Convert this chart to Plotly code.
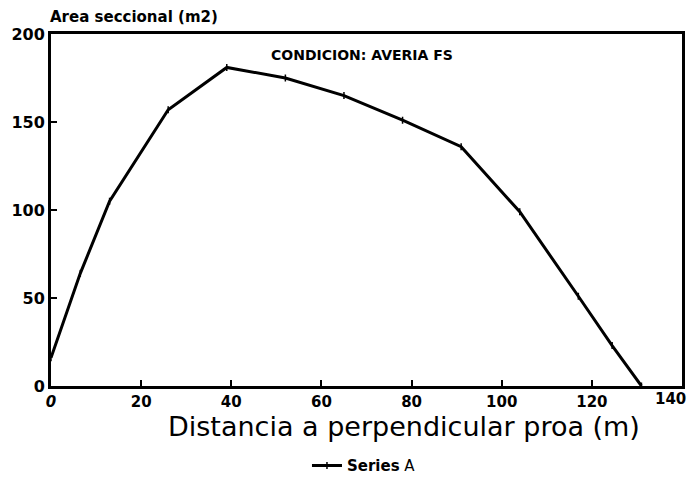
import plotly.graph_objects as go

distancia = [0, 6.5, 13, 26, 39, 52, 65, 78, 91, 104, 117, 124.5, 131]
area = [16, 64, 105, 157, 181, 175, 165, 151, 136, 99, 51, 23, 0]
x_ticks = [0, 20, 40, 60, 80, 100, 120, 140]
y_ticks = [0, 50, 100, 150, 200]

F = "DejaVu Sans, sans-serif"

# last label is drawn as an annotation so it is not clipped at the right edge
x_ticktext = ["<i>0</i>"] + [str(v) for v in x_ticks[1:-1]] + [""]

fig = go.Figure()
fig.add_trace(go.Scatter(
    x=distancia, y=area, mode="lines+markers", name="<b>Series</b> A",
    line=dict(color="black", width=3),
    marker=dict(symbol="line-ns", size=5, line=dict(color="black", width=1.5)),
))

# page body has an 8px default margin, so the figure is smaller than the window
fig.update_layout(
    width=692, height=470,
    margin=dict(l=43, r=18, t=26, b=92, autoexpand=False),
    paper_bgcolor="white", plot_bgcolor="white",
    font=dict(family=F, color="black"),
    showlegend=True,
    legend=dict(orientation="h", x=0.496, xanchor="center", y=-0.18, yanchor="top",
                font=dict(size=15, family=F)),
    annotations=[
        dict(text="CONDICION: AVERIA FS", x=0.493, y=0.94, xref="paper", yref="paper",
             showarrow=False, font=dict(size=14, family=F, weight="bold"), xanchor="center", yanchor="middle"),
        dict(text="Area seccional (m2)", x=-0.004, y=1.0, xref="paper", yref="paper", yshift=6,
             showarrow=False, font=dict(size=15, family=F, weight="bold"), xanchor="left", yanchor="bottom"),
        dict(text="Distancia a perpendicular proa (m)", x=0.559, y=-0.114, xref="paper", yref="paper",
             showarrow=False, font=dict(size=27, family=F), xanchor="center", yanchor="middle"),
        dict(text=str(x_ticks[-1]), x=x_ticks[-1], xref="x", y=0, yref="paper", yshift=-2, xshift=6,
             showarrow=False, font=dict(size=15, family=F, weight="bold"), xanchor="right", yanchor="top"),
    ],
)
fig.update_xaxes(
    range=[0, 140], tickvals=x_ticks, ticktext=x_ticktext,
    ticks="inside", ticklen=6, tickwidth=2, tickcolor="black", automargin=False,
    showline=True, linecolor="black", linewidth=3, mirror=True, showgrid=False, zeroline=False,
    tickfont=dict(size=15, family=F, weight="bold"),
)
fig.update_yaxes(
    range=[0, 200], tickvals=y_ticks, automargin=False,
    ticks="inside", ticklen=6, tickwidth=2, tickcolor="black",
    showline=True, linecolor="black", linewidth=3, mirror=True, showgrid=False, zeroline=False,
    tickfont=dict(size=16, family=F, weight="bold"),
)

fig.write_html("out.html")
